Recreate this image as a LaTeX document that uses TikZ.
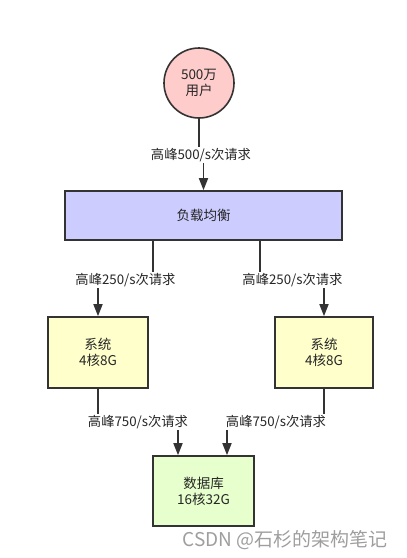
\documentclass[tikz,border=0pt]{standalone}
\usepackage{fontspec}
\setmainfont{Noto Sans CJK SC}
\usetikzlibrary{arrows.meta}
\definecolor{edgec}{HTML}{333333}
\definecolor{pinkf}{HTML}{FFCCCC}
\definecolor{bluef}{HTML}{CCCCFF}
\definecolor{yellowf}{HTML}{FFFFCC}
\definecolor{greenf}{HTML}{E6FFCC}
\begin{document}
\begin{tikzpicture}[x=1pt,y=-1pt,
 line/.style={draw=edgec, line width=1.6pt},
 arr/.style={line, -{Triangle[length=12pt,width=9pt]}},
 box/.style={draw=edgec, line width=1.6pt, inner sep=0pt, align=center,
   font=\fontsize{13.5}{16}\selectfont, text=black!85},
 lbl/.style={fill=white, inner sep=1pt, font=\fontsize{13.3}{15}\selectfont, text=black!85}]
\useasboundingbox (0,0) rectangle (407,558);
\node[box, circle, fill=pinkf, minimum size=70pt] (users) at (199,83) {500万\\用户};
\node[box, fill=bluef, minimum width=277pt, minimum height=49pt] (lb) at (203.5,215.5) {负载均衡};
\node[box, fill=yellowf, minimum width=100pt, minimum height=71pt] (sys1) at (98,352.5) {系统\\4核8G};
\node[box, fill=yellowf, minimum width=98pt, minimum height=71pt] (sys2) at (324,352.5) {系统\\4核8G};
\node[box, fill=greenf, minimum width=101pt, minimum height=70pt] (db) at (203.5,491) {数据库\\16核32G};

\draw[arr] (users.south) -- ++(0,37) -| (lb.north);
\node[lbl] (l1) at (201,155) {高峰500/s次请求};

\draw[arr] ([xshift=-50.5pt]lb.south) -- ++(0,40) -| (sys1.north);
\node[lbl] (l2) at (125.5,280) {高峰250/s次请求};
\draw[arr] ([xshift=56.5pt]lb.south) -- ++(0,40) -| (sys2.north);
\node[lbl] (l3) at (292.5,280) {高峰250/s次请求};

\draw[arr] (sys1.south) -- ++(0,34) -| ([xshift=-25.5pt]db.north);
\node[lbl] (l4) at (138,422) {高峰750/s次请求};
\draw[arr] (sys2.south) -- ++(0,34) -| ([xshift=23.5pt]db.north);
\node[lbl] (l5) at (276,422) {高峰750/s次请求};

\node[font=\fontsize{19}{21}\selectfont, text=black!38, inner sep=0pt] (wm) at (285,540) {CSDN @石杉的架构笔记};
\end{tikzpicture}
\end{document}
